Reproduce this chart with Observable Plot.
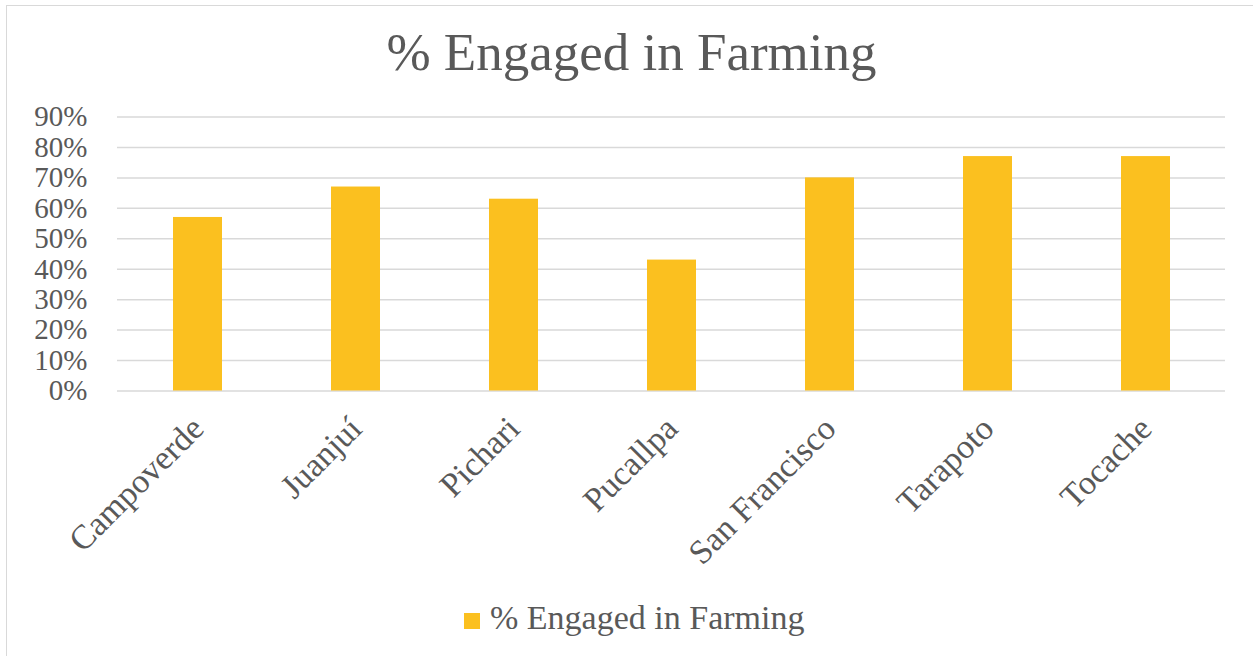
<!DOCTYPE html>
<html>
<head>
<meta charset="utf-8">
<script src="https://cdn.jsdelivr.net/npm/d3@7"></script>
<script src="https://cdn.jsdelivr.net/npm/@observablehq/plot@0.6"></script>
<style>
  html, body { margin: 0; padding: 0; background: #fff; width: 1253px; height: 656px; overflow: hidden; }
  #frame { position: absolute; left: 6px; top: 5px; width: 1400px; height: 800px;
           border-left: 1.5px solid #d9d9d9; border-top: 1.5px solid #d9d9d9; box-sizing: border-box; }
  #title { position: absolute; left: 10px; width: 1243px; top: 26px; text-align: center;
           font-family: "Liberation Serif", serif; font-size: 53px; line-height: 53px; color: #595959; white-space: nowrap; }
  #chart { position: absolute; left: 0; top: 80px; }
  #legend { position: absolute; left: 464px; top: 601px; display: flex; align-items: center;
            font-family: "Liberation Serif", serif; font-size: 34px; line-height: 34px; color: #595959; white-space: nowrap; }
  #legend .sw { width: 16px; height: 16px; margin-right: 10px; margin-top: 6px; }
</style>
</head>
<body>
<div id="frame"></div>
<div id="title">% Engaged in Farming</div>
<div id="chart"></div>
<div id="legend"><span class="sw"></span><span class="lt"></span></div>
<script>
// ---- data ----
const cities = ["Campoverde", "Juanjuí", "Pichari", "Pucallpa", "San Francisco", "Tarapoto", "Tocache"];
const shares = [0.57, 0.67, 0.63, 0.43, 0.70, 0.77, 0.77];
const yTicks = [0, 0.1, 0.2, 0.3, 0.4, 0.5, 0.6, 0.7, 0.8, 0.9];
const yTickLabels = ["0%", "10%", "20%", "30%", "40%", "50%", "60%", "70%", "80%", "90%"];
const seriesName = "% Engaged in Farming";
const barColor = "#FBC01F";
const textColor = "#595959";

const rows = cities.map((c, i) => ({city: c, value: shares[i]}));

const svgTop = 80;
const plotTop = 116.5, plotBottom = 390.5;
const height = 500;

const chart = Plot.plot({
  width: 1253,
  height: height,
  marginLeft: 117,
  marginRight: 28,
  marginTop: plotTop - svgTop,
  marginBottom: height - (plotBottom - svgTop),
  style: {fontFamily: "Liberation Serif, serif", color: textColor, background: "transparent"},
  x: {domain: cities, paddingInner: 0.69, paddingOuter: 0.345, label: null},
  y: {domain: [0, 0.9], label: null},
  marks: [
    Plot.gridY(yTicks, {stroke: "#d9d9d9", strokeOpacity: 1, strokeWidth: 1.5}),
    Plot.barY(rows, {x: "city", y: "value", fill: barColor}),
    Plot.axisY(yTicks, {tickSize: 0, tickPadding: 30, fontSize: 29,
      tickFormat: (d) => yTickLabels[yTicks.indexOf(d)], fill: textColor, label: null}),
    Plot.axisX({tickSize: 0, tickPadding: 32, tickRotate: -45, fontSize: 34, fill: textColor, label: null})
  ]
});
document.getElementById("chart").appendChild(chart);
document.querySelector("#legend .sw").style.background = barColor;
document.querySelector("#legend .lt").textContent = seriesName;
</script>
</body>
</html>
